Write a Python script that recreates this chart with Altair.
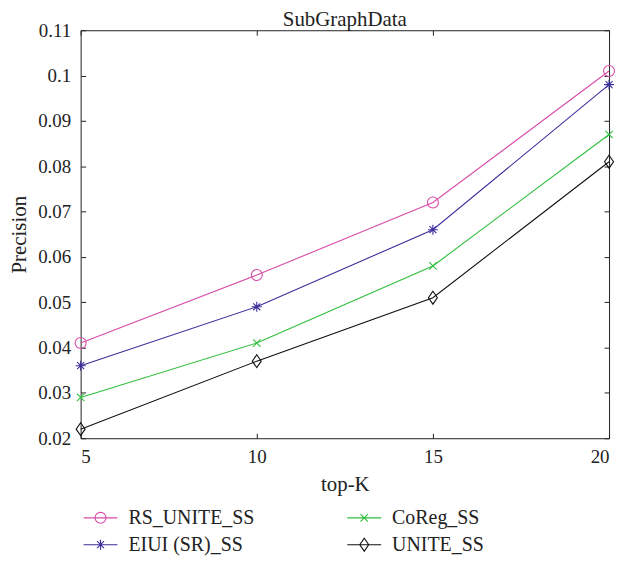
import altair as alt
import pandas as pd

top_k = [5, 10, 15, 20]
series_names = ["RS_UNITE_SS", "EIUI (SR)_SS", "CoReg_SS", "UNITE_SS"]
rs_unite = [0.041, 0.056, 0.072, 0.101]
eiui_sr = [0.036, 0.049, 0.066, 0.098]
coreg = [0.029, 0.041, 0.058, 0.087]
unite = [0.022, 0.037, 0.051, 0.081]
y_ticks = [0.02, 0.03, 0.04, 0.05, 0.06, 0.07, 0.08, 0.09, 0.10, 0.11]
x_ticks = [5, 10, 15, 20]

colors = ["#d84ba8", "#3a2e9c", "#2fbf3c", "#111111"]
marker_paths = [
    "M-1.1,0A1.1,1.1 0 1,0 1.1,0A1.1,1.1 0 1,0 -1.1,0Z",
    "M-1,0L1,0M0,-1L0,1M-0.7,-0.7L0.7,0.7M-0.7,0.7L0.7,-0.7",
    "M-0.75,-0.75L0.75,0.75M-0.75,0.75L0.75,-0.75",
    "M0,-1.3L0.9,0L0,1.3L-0.9,0Z",
]
line_seg = "M-3.4,0L3.4,0"

rows = []
for name, vals in zip(series_names, [rs_unite, eiui_sr, coreg, unite]):
    for k, v in zip(top_k, vals):
        rows.append({"k": k, "precision": v, "series": name})
df = pd.DataFrame(rows)

FONT = "Liberation Serif"

color_scale = alt.Scale(domain=series_names, range=colors)
shape_scale = alt.Scale(domain=series_names, range=marker_paths)
legend_shape_scale = alt.Scale(domain=series_names, range=[line_seg + p for p in marker_paths])

legend = alt.Legend(
    title=None,
    orient="none",
    legendX=10,
    legendY=480,
    columns=2,
    columnPadding=90,
    rowPadding=7,
    labelFont=FONT,
    labelFontSize=20,
    labelColor="#222",
    labelOffset=18,
    symbolSize=100,
    symbolStrokeWidth=1.1,
)

xscale = alt.Scale(domain=[5, 20], nice=False, zero=False)
yscale = alt.Scale(domain=[0.02, 0.11], nice=False, zero=False)

main_x_axis = alt.Axis(values=x_ticks, title="top-K", labelFont=FONT, labelFontSize=19,
                       titleFont=FONT, titleFontSize=21, titleFontWeight="normal",
                       labelColor="#222", titleColor="#222", ticks=False, domain=False,
                       grid=False, labelPadding=9, titlePadding=8)
main_y_axis = alt.Axis(values=y_ticks, format=".2~f", title="Precision", labelFont=FONT,
                       labelFontSize=19, titleFont=FONT, titleFontSize=21,
                       titleFontWeight="normal", labelColor="#222", titleColor="#222",
                       ticks=False, domain=False, grid=False, labelPadding=10, titlePadding=8)

lines = alt.Chart(df).mark_line(strokeWidth=1.1).encode(
    x=alt.X("k:Q", scale=xscale, axis=main_x_axis),
    y=alt.Y("precision:Q", scale=yscale, axis=main_y_axis),
    color=alt.Color("series:N", scale=color_scale, legend=None),
)

points = alt.Chart(df).mark_point(filled=False, size=100, strokeWidth=1.1, opacity=1).encode(
    x=alt.X("k:Q", scale=xscale, axis=None),
    y=alt.Y("precision:Q", scale=yscale, axis=None),
    color=alt.Color("series:N", scale=color_scale, legend=None),
    shape=alt.Shape("series:N", scale=shape_scale, legend=None),
)

legend_layer = alt.Chart(df).mark_point(filled=False, size=100, strokeWidth=1.1, opacity=1).encode(
    color=alt.Color("series:N", scale=color_scale, legend=legend),
    shape=alt.Shape("series:N", scale=legend_shape_scale, legend=legend),
).transform_filter("false")

def tick_axis(orient):
    return alt.Axis(orient=orient, values=x_ticks if orient in ("top", "bottom") else y_ticks,
                    labels=False, title=None, domain=False, grid=False, ticks=True,
                    labelFont=FONT, titleFont=FONT,
                    tickSize=5, tickColor="#222", tickWidth=1, offset=-5)

ticks_a = alt.Chart(df).mark_point(opacity=0).encode(
    x=alt.X("k:Q", scale=xscale, axis=tick_axis("bottom")),
    y=alt.Y("precision:Q", scale=yscale, axis=tick_axis("left")),
)
ticks_b = alt.Chart(df).mark_point(opacity=0).encode(
    x=alt.X("k:Q", scale=xscale, axis=tick_axis("top")),
    y=alt.Y("precision:Q", scale=yscale, axis=tick_axis("right")),
)

chart = alt.layer(lines, points, legend_layer, ticks_a, ticks_b).resolve_axis(
    x="independent", y="independent"
).resolve_scale(
    color="independent", shape="independent"
).properties(
    width=531,
    height=410,
    padding={"left": 0, "top": 0, "right": 0, "bottom": 0},
    title=alt.Title("SubGraphData", font=FONT, fontSize=21, fontWeight="normal",
                    color="#222", offset=-9),
).configure(
    background="white",
    font=FONT,
    style={"guide-label": {"font": FONT}, "guide-title": {"font": FONT}},
).configure_view(
    stroke="#222", strokeWidth=1
).configure_axis(
    labelFont=FONT, titleFont=FONT
)

chart.save("out.html", embed_options={"renderer": "svg", "actions": False})
